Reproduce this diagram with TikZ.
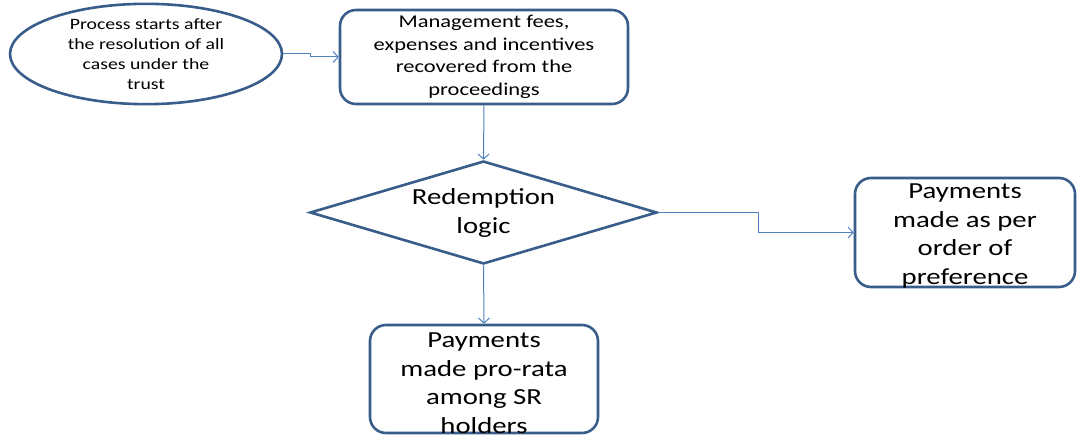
\documentclass[tikz,border=0pt]{standalone}
\usepackage{fontspec}
\setmainfont{Carlito}[FakeStretch=1.25]
\usetikzlibrary{shapes.geometric,arrows.meta}
\definecolor{edgeblue}{RGB}{56,93,138}
\definecolor{linkblue}{RGB}{79,129,189}
\begin{document}
\begin{tikzpicture}[x=1pt,y=-1pt,
  outline/.style={draw=edgeblue, line width=2.6pt, fill=white, align=center, inner sep=0pt, text=black},
  roundbox/.style={outline, rectangle, rounded corners=16pt},
  label/.style={align=center, inner sep=0pt, text=black},
  bigtext/.style={label, font=\fontsize{23}{28.5}\selectfont},
  link/.style={draw=linkblue, line width=1pt, -{Straight Barb[length=5pt,width=11pt]}}]
  \useasboundingbox (0,0) rectangle (1077,436);

  % start of the process
  \node[outline, ellipse, minimum width=272pt, minimum height=88pt,
        font=\fontsize{15.8}{20}\selectfont] (start) at (146,54)
    {Process starts after\\the resolution of all\\cases under the\\trust};

  % fees and expenses
  \node[roundbox, minimum width=288pt, minimum height=94pt,
        font=\fontsize{18}{22.5}\selectfont] (fees) at (484,57)
    {Management fees,\\expenses and incentives\\recovered from the\\proceedings};

  % decision
  \node[outline, diamond, aspect=3.37, minimum width=347pt, minimum height=103pt] (logic) at (483.5,212.5) {};
  \node[label, font=\fontsize{23}{29}\selectfont] (logictext) at (483.5,213) {Redemption\\logic};

  % outcomes
  \node[roundbox, minimum width=220pt, minimum height=109pt] (pref) at (965,232.5) {};
  \node[bigtext] (preftext) at (965,236) {Payments\\made as per\\order of\\preference};
  \node[roundbox, minimum width=228pt, minimum height=108pt] (prorata) at (484,379) {};
  \node[bigtext] (proratatext) at (484,383) {Payments\\made pro-rata\\among SR\\holders};

  % connectors
  \draw[link] (start.east) -- ++(27,0) |- (fees.west);
  \draw[link] (fees.south) -- (logic.north);
  \draw[link] (logic.east) -- ++(100,0) |- (pref.west);
  \draw[link] (logic.south) -- (prorata.north);
\end{tikzpicture}
\end{document}
